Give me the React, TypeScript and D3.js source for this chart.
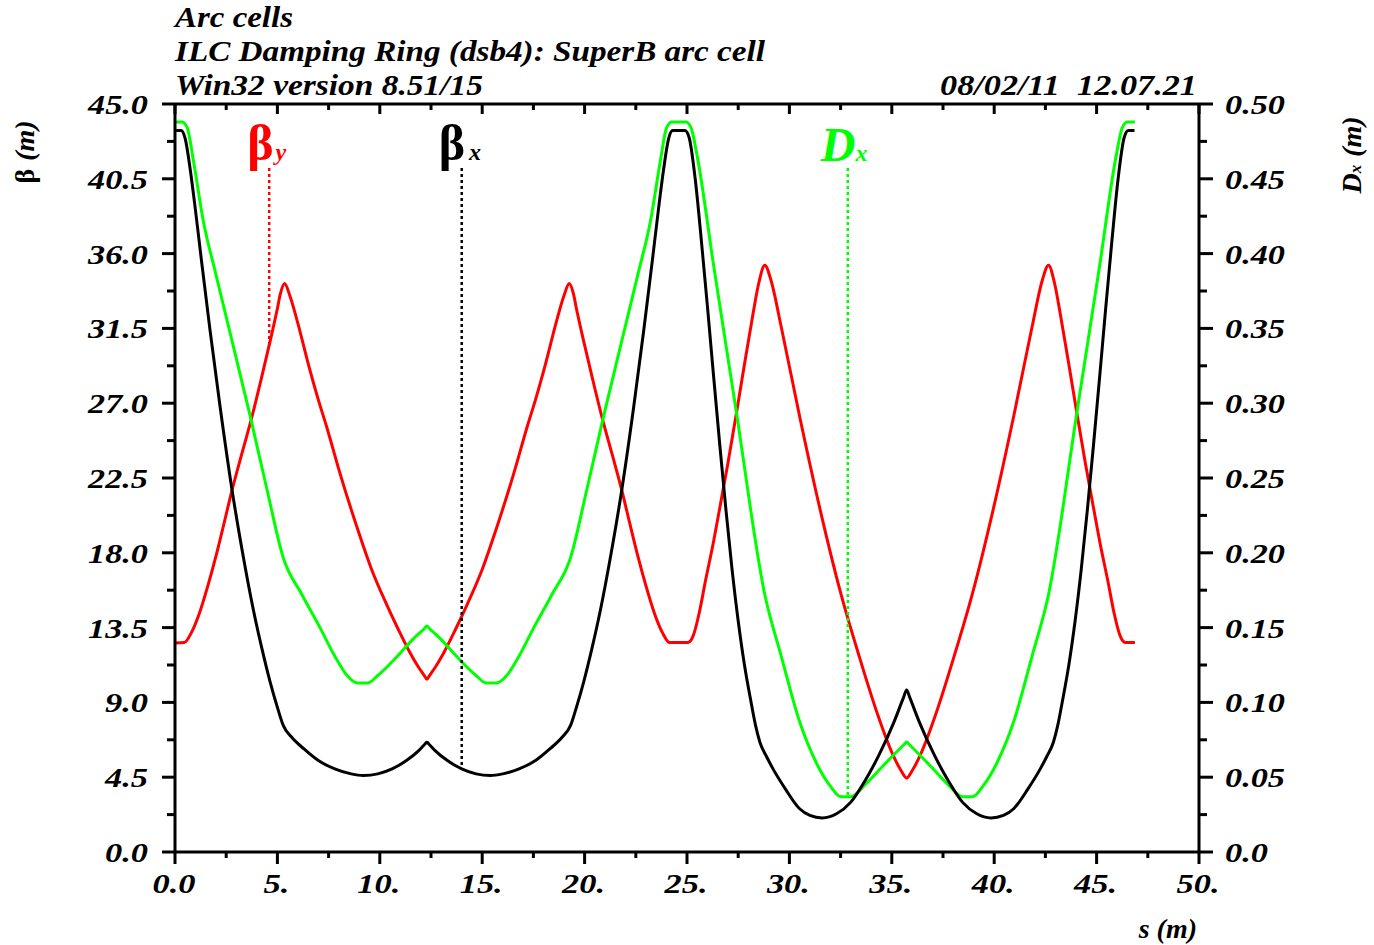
import React from 'react';
import * as d3 from 'd3';

const titleLines = ['Arc cells', 'ILC Damping Ring (dsb4): SuperB arc cell', 'Win32 version 8.51/15'];
const titleWidths = [118, 590, 308];
const dateText = '08/02/11\u00a0\u00a012.07.21';

const sTickValues = [0, 5, 10, 15, 20, 25, 30, 35, 40, 45, 50];
const sTickLabels = ['0.0', '5.', '10.', '15.', '20.', '25.', '30.', '35.', '40.', '45.', '50.'];
const betaTickValues = [0, 4.5, 9, 13.5, 18, 22.5, 27, 31.5, 36, 40.5, 45];
const betaTickLabels = ['0.0', '4.5', '9.0', '13.5', '18.0', '22.5', '27.0', '31.5', '36.0', '40.5', '45.0'];
const dxTickValues = [0, 0.05, 0.1, 0.15, 0.2, 0.25, 0.3, 0.35, 0.4, 0.45, 0.5];
const dxTickLabels = ['0.0', '0.05', '0.10', '0.15', '0.20', '0.25', '0.30', '0.35', '0.40', '0.45', '0.50'];

// beta_x (black)
const betaXS = [0, 0.3, 0.5, 0.75, 1.0, 1.3, 1.71, 2.2, 2.77, 3.3, 3.82, 4.25, 4.64, 5.0, 5.29, 5.7, 6.3, 7.0, 7.8, 8.6, 9.2, 9.9, 10.6, 11.3, 11.9, 12.15, 12.3,
  12.45, 12.7, 13.3, 14.0, 14.7, 15.4, 16.0, 16.8, 17.6, 18.3, 18.9, 19.31, 19.6, 19.96, 20.35, 20.78, 21.3, 21.83, 22.4, 22.89, 23.3, 23.6, 23.85, 24.1, 24.3,
  24.9, 25.1, 25.4, 25.7, 26.0, 26.3, 26.6, 26.9, 27.2, 27.5, 27.8, 28.1, 28.35, 28.56, 28.9, 29.2, 29.8, 30.5, 31.0, 31.6, 32.3, 33.0, 33.7, 34.4, 35.1, 35.575, 35.725,
  35.875, 36.35, 37.05, 37.75, 38.45, 39.15, 39.85, 40.45, 40.95, 41.65, 42.25, 42.55, 42.89, 43.1, 43.35, 43.65, 43.95, 44.25, 44.55, 44.85, 45.15, 45.45, 45.75, 46.05, 46.35, 46.55, 46.85];
const betaXV = [43.4, 43.4, 42.9, 41.0, 38.6, 35.5, 31.4, 26.8, 21.9, 18.0, 14.6, 12.2, 10.25, 8.7, 7.6, 6.9, 6.2, 5.5, 5.0, 4.7, 4.6, 4.7, 5.0, 5.5, 6.1, 6.42, 6.6,
  6.42, 6.1, 5.5, 5.0, 4.7, 4.6, 4.7, 5.0, 5.5, 6.2, 6.9, 7.6, 8.7, 10.25, 12.2, 14.6, 18.0, 21.9, 26.8, 31.4, 35.5, 38.6, 41.0, 42.9, 43.4,
  43.4, 43.0, 40.5, 36.8, 32.8, 28.6, 24.5, 20.6, 17.0, 13.9, 11.3, 9.2, 7.6, 6.6, 5.7, 5.0, 3.8, 2.6, 2.2, 2.05, 2.3, 3.0, 4.3, 5.9, 7.8, 9.3, 9.75,
  9.3, 7.8, 5.9, 4.3, 3.0, 2.3, 2.05, 2.2, 2.6, 3.8, 5.0, 5.7, 6.6, 7.6, 9.2, 11.3, 13.9, 17.0, 20.6, 24.5, 28.6, 32.8, 36.8, 40.5, 43.0, 43.4, 43.4];

// beta_y (red)
const betaYS = [0, 0.45, 0.8, 1.2, 1.6, 2.0, 2.4, 2.77, 3.25, 3.74, 4.2, 4.64, 5.0, 5.15, 5.35, 5.6, 6.0, 6.5, 7.0, 7.4, 8.1, 8.87, 9.6, 10.33, 10.9, 11.47, 11.9, 12.15, 12.3,
  12.45, 12.7, 13.13, 13.7, 14.27, 15.0, 15.73, 16.5, 17.2, 17.6, 18.1, 18.6, 19.0, 19.25, 19.45, 19.6, 19.96, 20.4, 20.86, 21.35, 21.83, 22.2, 22.6, 23.0, 23.4, 23.8, 24.15,
  25.05, 25.3, 25.6, 25.9, 26.3, 26.6, 27.0, 27.4, 27.8, 28.2, 28.5, 28.8, 29.1, 29.6, 30.5, 31.5, 32.5, 33.5, 34.3, 35.0, 35.45, 35.725,
  36.0, 36.45, 37.15, 37.95, 38.95, 39.95, 40.95, 41.85, 42.35, 42.65, 42.95, 43.25, 43.65, 44.05, 44.45, 44.85, 45.15, 45.55, 45.85, 46.15, 46.4, 46.87];
const betaYV = [12.57, 12.6, 13.2, 14.4, 16.0, 17.8, 19.8, 21.7, 23.9, 26.1, 28.4, 30.7, 32.7, 33.6, 34.2, 33.5, 31.8, 29.4, 27.2, 25.6, 22.6, 19.6, 17.0, 14.9, 13.4, 12.0, 11.1, 10.66, 10.4,
  10.66, 11.1, 12.0, 13.4, 14.9, 17.0, 19.6, 22.6, 25.6, 27.2, 29.4, 31.8, 33.5, 34.2, 33.6, 32.7, 30.7, 28.4, 26.1, 23.9, 21.7, 19.8, 17.8, 16.0, 14.4, 13.2, 12.6,
  12.6, 13.0, 14.4, 16.3, 18.7, 20.7, 23.4, 26.3, 29.3, 32.2, 34.2, 35.3, 34.4, 31.6, 26.2, 20.6, 15.6, 11.4, 8.3, 6.0, 4.9, 4.45,
  4.9, 6.0, 8.3, 11.4, 15.6, 20.6, 26.2, 31.6, 34.4, 35.3, 34.2, 32.2, 29.3, 26.3, 23.4, 20.7, 18.7, 16.3, 14.4, 13.0, 12.6, 12.6];

// D_x (green)
const dxS = [0, 0.35, 0.6, 0.9, 1.38, 2.0, 2.69, 3.66, 4.48, 5.29, 6.2, 7.08, 7.8, 8.4, 8.9, 9.4, 9.9, 10.8, 11.6, 12.15, 12.3,
  12.45, 13.0, 13.8, 14.7, 15.2, 15.7, 16.2, 16.8, 17.52, 18.4, 19.31, 20.12, 20.94, 21.91, 22.6, 23.22, 23.7, 24.0, 24.25,
  24.95, 25.2, 25.5, 26.3, 27.4, 28.8, 29.6, 30.5, 31.3, 32.0, 32.5, 33.0, 33.7, 34.6, 35.575, 35.725,
  35.875, 36.85, 37.75, 38.45, 38.95, 39.45, 40.15, 40.95, 41.85, 42.65, 44.05, 45.15, 45.95, 46.25, 46.5, 46.87];
const dxV = [0.488, 0.488, 0.484, 0.462, 0.422, 0.386, 0.347, 0.292, 0.243, 0.1965, 0.172, 0.150, 0.131, 0.118, 0.113, 0.113, 0.118, 0.130, 0.142, 0.149, 0.151,
  0.149, 0.142, 0.130, 0.118, 0.113, 0.113, 0.118, 0.131, 0.150, 0.172, 0.1965, 0.243, 0.292, 0.347, 0.386, 0.422, 0.462, 0.484, 0.488,
  0.488, 0.484, 0.465, 0.392, 0.295, 0.172, 0.131, 0.087, 0.060, 0.044, 0.037, 0.037, 0.045, 0.058, 0.0715, 0.0735,
  0.0715, 0.058, 0.045, 0.037, 0.037, 0.044, 0.060, 0.087, 0.131, 0.172, 0.295, 0.392, 0.465, 0.484, 0.488, 0.488];

// legend label anchors (s position of dotted marker line)
const labelBetaYS = 4.6;
const labelBetaXS = 14.0;
const labelDxS = 32.85;

const W = 1374;
const H = 945;
const X0 = 175, X1 = 1199, Y0 = 104, Y1 = 852;
const FONT = "'Liberation Serif', 'Times New Roman', serif";

const RED = '#ff0000';
const GREEN = '#00ff00';
const BLACK = '#000000';

function interp(xs: number[], ys: number[], s: number) {
  const i = d3.bisectRight(xs, s);
  if (i <= 0) return ys[0];
  if (i >= xs.length) return ys[ys.length - 1];
  const t = (s - xs[i - 1]) / (xs[i] - xs[i - 1]);
  return ys[i - 1] + t * (ys[i] - ys[i - 1]);
}

function labelLen(str: string) {
  let w = 0;
  for (const ch of str) w += ch === '.' ? 9 : 17;
  return w;
}

export default function App() {
  const x = d3.scaleLinear().domain([0, 50]).range([X0, X1]);
  const yB = d3.scaleLinear().domain([0, 45]).range([Y1, Y0]);
  const yD = d3.scaleLinear().domain([0, 0.5]).range([Y1, Y0]);

  const lineB = d3.line<[number, number]>().x(d => x(d[0])).y(d => yB(d[1])).curve(d3.curveMonotoneX);
  const lineD = d3.line<[number, number]>().x(d => x(d[0])).y(d => yD(d[1])).curve(d3.curveMonotoneX);

  const bx = lineB(betaXS.map((s, i) => [s, betaXV[i]] as [number, number])) || '';
  const by = lineB(betaYS.map((s, i) => [s, betaYV[i]] as [number, number])) || '';
  const dx = lineD(dxS.map((s, i) => [s, dxV[i]] as [number, number])) || '';

  const sMinor = d3.range(0, 50.01, 2.5);
  const bMinor = d3.range(0, 45.01, 2.25);
  const dMinor = d3.range(0, 0.5001, 0.025);

  const textStyle = { fontFamily: FONT, fontWeight: 700, fontStyle: 'italic' as const };

  return (
    <svg width={W} height={H} style={{ position: 'absolute', left: 0, top: 0, background: '#fff' }}>
      <rect x={0} y={0} width={W} height={H} fill="#fff" />
      {/* header */}
      {titleLines.map((t, i) => (
        <text key={i} x={175} y={27 + i * 34} fontSize={29} textLength={titleWidths[i]} lengthAdjust="spacingAndGlyphs" {...textStyle}>{t}</text>
      ))}
      <text x={1197} y={95} fontSize={29} textAnchor="end" textLength={257} lengthAdjust="spacingAndGlyphs" {...textStyle}>{dateText}</text>

      {/* curves */}
      <g fill="none" strokeWidth={3} strokeLinejoin="round">
        <path d={by} stroke={RED} />
        <path d={dx} stroke={GREEN} />
        <path d={bx} stroke={BLACK} />
      </g>

      {/* frame */}
      <g stroke={BLACK} strokeWidth={3} fill="none">
        <line x1={X0} y1={Y0} x2={X1} y2={Y0} />
        <line x1={X0} y1={Y1} x2={X1} y2={Y1} />
        <line x1={X0} y1={Y0} x2={X0} y2={Y1} />
        <line x1={X1} y1={Y0} x2={X1} y2={Y1} />
        {sMinor.map((v, i) => {
          const major = Math.abs(v % 5) < 1e-6;
          return (
            <g key={'s' + i}>
              <line x1={x(v)} x2={x(v)} y1={Y1} y2={Y1 + (major ? 12 : 6)} />
              <line x1={x(v)} x2={x(v)} y1={Y0} y2={Y0 + (major ? 10 : 6)} />
            </g>
          );
        })}
        {bMinor.map((v, i) => {
          const major = i % 2 === 0;
          return <line key={'b' + i} x1={X0 - (major ? 13 : 8)} x2={X0} y1={yB(v)} y2={yB(v)} />;
        })}
        {dMinor.map((v, i) => {
          const major = i % 2 === 0;
          return <line key={'d' + i} x1={X1} x2={X1 + (major ? 14 : 8)} y1={yD(v)} y2={yD(v)} />;
        })}
      </g>

      {/* tick labels */}
      {sTickValues.map((v, i) => (
        <text key={'sl' + i} x={x(v) - 1} y={893} fontSize={27} textAnchor="middle" textLength={labelLen(sTickLabels[i])} lengthAdjust="spacingAndGlyphs" {...textStyle}>{sTickLabels[i]}</text>
      ))}
      {betaTickValues.map((v, i) => (
        <text key={'bl' + i} x={148} y={yB(v) + 10} fontSize={27} textAnchor="end" textLength={labelLen(betaTickLabels[i])} lengthAdjust="spacingAndGlyphs" {...textStyle}>{betaTickLabels[i]}</text>
      ))}
      {dxTickValues.map((v, i) => (
        <text key={'dl' + i} x={1225} y={yD(v) + 10} fontSize={27} textAnchor="start" textLength={labelLen(dxTickLabels[i])} lengthAdjust="spacingAndGlyphs" {...textStyle}>{dxTickLabels[i]}</text>
      ))}

      {/* axis titles */}
      <text x={1197} y={938} fontSize={28} textAnchor="end" {...textStyle}>s (m)</text>
      <text transform="translate(34,152) rotate(-90)" fontSize={28} textAnchor="middle" {...textStyle}>
        <tspan fontStyle="normal">β</tspan>
        <tspan dx={8}>(m)</tspan>
      </text>
      <text transform="translate(1361,155) rotate(-90)" fontSize={28} textAnchor="middle" {...textStyle}>
        <tspan>D</tspan>
        <tspan fontSize={17}>x</tspan>
        <tspan dx={8}>(m)</tspan>
      </text>

      {/* legend labels with dotted markers */}
      <g strokeWidth={2.5} strokeDasharray="3,3" fill="none">
        <line x1={x(labelBetaYS)} x2={x(labelBetaYS)} y1={168} y2={yB(interp(betaYS, betaYV, labelBetaYS))} stroke={RED} />
        <line x1={x(labelBetaXS)} x2={x(labelBetaXS)} y1={168} y2={yB(interp(betaXS, betaXV, labelBetaXS))} stroke={BLACK} />
        <line x1={x(labelDxS)} x2={x(labelDxS)} y1={168} y2={yD(interp(dxS, dxV, labelDxS))} stroke={GREEN} />
      </g>
      <text x={x(labelBetaYS) - 22} y={160} fill={RED} fontFamily={FONT} fontWeight={700}>
        <tspan fontSize={50}>β</tspan>
        <tspan fontSize={24} fontStyle="italic" dx={2}>y</tspan>
      </text>
      <text x={x(labelBetaXS) - 23} y={160} fill={BLACK} fontFamily={FONT} fontWeight={700}>
        <tspan fontSize={50}>β</tspan>
        <tspan fontSize={24} fontStyle="italic" dx={4}>x</tspan>
      </text>
      <text x={x(labelDxS) - 27} y={161} fill={GREEN} fontFamily={FONT} fontWeight={700} fontStyle="italic">
        <tspan fontSize={48}>D</tspan>
        <tspan fontSize={24}>x</tspan>
      </text>
    </svg>
  );
}
